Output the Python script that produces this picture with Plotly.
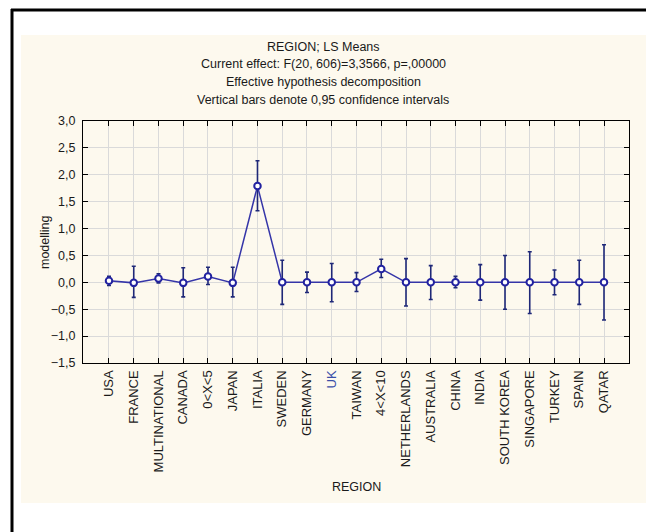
import plotly.graph_objects as go

categories = ["USA", "FRANCE", "MULTINATIONAL", "CANADA", "0<X<5", "JAPAN", "ITALIA",
              "SWEDEN", "GERMANY", "UK", "TAIWAN", "4<X<10", "NETHERLANDS", "AUSTRALIA",
              "CHINA", "INDIA", "SOUTH KOREA", "SINGAPORE", "TURKEY", "SPAIN", "QATAR"]
means = [0.03, -0.01, 0.07, -0.01, 0.11, -0.01, 1.79,
         0.0, 0.0, 0.0, 0.0, 0.25, 0.0, 0.0,
         0.0, 0.0, 0.0, 0.0, 0.0, 0.0, 0.0]
ci_upper = [0.11, 0.30, 0.16, 0.27, 0.28, 0.28, 2.26,
            0.41, 0.19, 0.35, 0.18, 0.43, 0.44, 0.31,
            0.11, 0.33, 0.50, 0.57, 0.23, 0.41, 0.70]
ci_lower = [-0.06, -0.28, -0.01, -0.27, -0.04, -0.27, 1.33,
            -0.41, -0.19, -0.36, -0.17, 0.09, -0.44, -0.32,
            -0.10, -0.33, -0.50, -0.58, -0.23, -0.41, -0.70]
y_ticks = [-1.5, -1.0, -0.5, 0.0, 0.5, 1.0, 1.5, 2.0, 2.5, 3.0]
title_lines = ["REGION; LS Means",
               "Current effect: F(20, 606)=3,3566, p=,00000",
               "Effective hypothesis decomposition",
               "Vertical bars denote 0,95 confidence intervals"]

x_pos = list(range(len(categories)))
err_plus = [u - m for u, m in zip(ci_upper, means)]
err_minus = [m - l for m, l in zip(means, ci_lower)]
tick_text = [f"<span style='color:#3a4ea8'>{c}</span>" if c == "UK" else c for c in categories]

FONT = "Liberation Sans, Arial, sans-serif"
W, H = 646, 532
L, R, T, B = 83, 17, 121, 169
PW, PH = W - L - R, H - T - B

def px_x(p):
    return (p - L) / PW

def px_y(p):
    return (H - B - p) / PH

fig = go.Figure()
fig.add_trace(go.Scatter(
    x=x_pos, y=means, mode="lines+markers",
    line=dict(color="#3535a8", width=1.5),
    marker=dict(symbol="circle", size=6.5, color="white",
                line=dict(color="#2222a0", width=2)),
    error_y=dict(type="data", symmetric=False, array=err_plus, arrayminus=err_minus,
                 color="#1f2878", thickness=1.6, width=2),
    showlegend=False,
))

shapes = [
    dict(type="rect", xref="paper", yref="paper", layer="below",
         x0=px_x(21), x1=px_x(646), y0=px_y(503), y1=px_y(35),
         fillcolor="#fdf9ee", line=dict(width=0, color="rgba(0,0,0,0)")),
    dict(type="line", xref="paper", yref="paper", layer="above",
         x0=px_x(11), x1=px_x(646), y0=px_y(10), y1=px_y(10),
         line=dict(color="black", width=3)),
    dict(type="line", xref="paper", yref="paper", layer="above",
         x0=px_x(12), x1=px_x(12), y0=px_y(9), y1=px_y(532),
         line=dict(color="black", width=3)),
]

annotations = []
for txt, ypx in zip(title_lines, [47, 64.5, 82, 99.5]):
    annotations.append(dict(text=txt, xref="paper", yref="paper", x=px_x(323), y=px_y(ypx),
                            showarrow=False, xanchor="center", yanchor="middle",
                            font=dict(family=FONT, size=12.5, color="#1a1a1a")))
annotations.append(dict(text="modelling", xref="paper", yref="paper", x=px_x(45), y=0.5,
                        textangle=-90, showarrow=False, xanchor="center", yanchor="middle",
                        font=dict(family=FONT, size=12.5, color="#1a1a1a")))
annotations.append(dict(text="REGION", xref="paper", yref="paper", x=px_x(356), y=px_y(487),
                        showarrow=False, xanchor="center", yanchor="middle",
                        font=dict(family=FONT, size=12.5, color="#1a1a1a")))

fig.update_layout(
    width=W, height=H,
    margin=dict(l=L, r=R, t=T, b=B, pad=0),
    paper_bgcolor="white", plot_bgcolor="white",
    separators=", ",
    shapes=shapes, annotations=annotations,
    font=dict(family=FONT, size=12.5, color="#1a1a1a"),
)
fig.update_xaxes(
    range=[-1.05, 21.01], tickmode="array", tickvals=x_pos, ticktext=tick_text,
    tickangle=-90, ticks="inside", ticklen=5, tickcolor="black", tickwidth=1,
    showline=True, linecolor="black", linewidth=1.3, mirror="ticks",
    showgrid=True, gridcolor="#dadada", gridwidth=1.2, zeroline=False,
    tickfont=dict(family=FONT, size=13, color="#1a1a1a"), ticklabelstandoff=1,
)
fig.update_yaxes(
    range=[-1.5, 3.0], tickmode="array", tickvals=y_ticks, tickformat=".1f",
    ticks="inside", ticklen=5, tickcolor="black", tickwidth=1,
    showline=True, linecolor="black", linewidth=1.3, mirror="ticks",
    showgrid=True, gridcolor="#dadada", gridwidth=1.2, zeroline=False,
    tickfont=dict(family=FONT, size=12.5, color="#1a1a1a"), ticklabelstandoff=4,
)

hide_scroll = (
    "var s=document.createElement('style');"
    "s.textContent='html,body{margin:0;padding:0;overflow:hidden;scrollbar-width:none;}"
    "::-webkit-scrollbar{display:none;width:0;height:0;}';"
    "document.head.appendChild(s);"
)

fig.write_html("out.html", post_script=hide_scroll)
